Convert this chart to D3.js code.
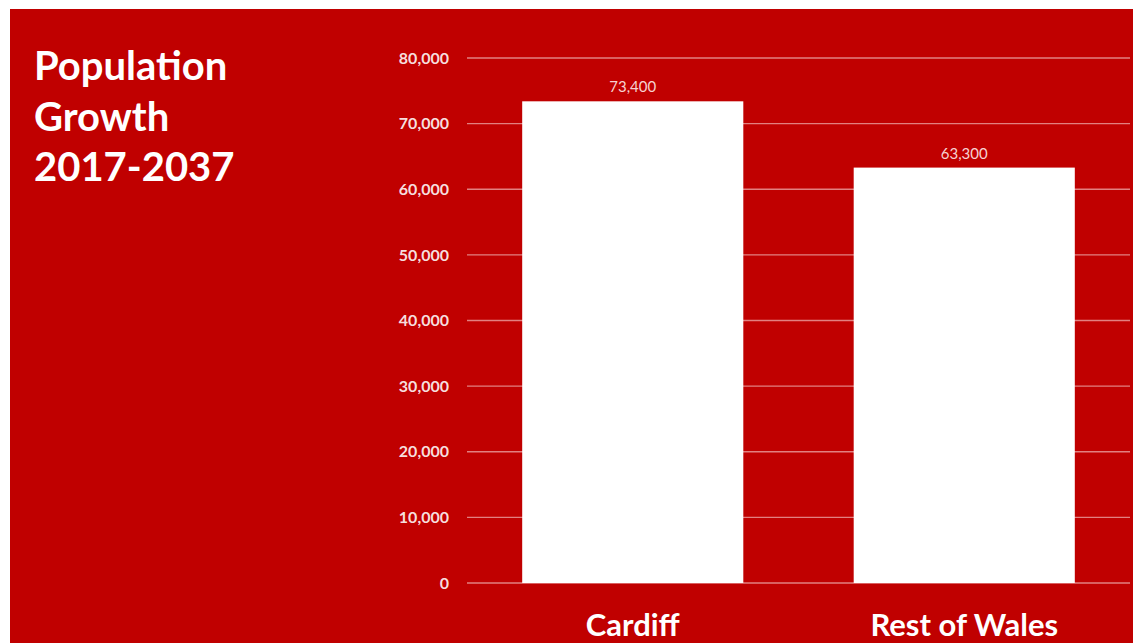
<!DOCTYPE html>
<html><head><meta charset="utf-8">
<script src="https://cdn.jsdelivr.net/npm/d3@7"></script>
<style>html,body{margin:0;padding:0;background:#fff;}svg{display:block;}</style>
</head><body>
<script>
const categories = ["Cardiff", "Rest of Wales"];
const values = [73400, 63300];
const tickValues = [0, 10000, 20000, 30000, 40000, 50000, 60000, 70000, 80000];
const titleLines = ["Population", "Growth", "2017-2037"];

const W = 1133, H = 643;
const svg = d3.select("body").append("svg").attr("width", W).attr("height", H);
svg.append("rect").attr("x", 10).attr("y", 9).attr("width", W - 10).attr("height", H - 9).attr("fill", "#C00000");

const font = "Lato, 'Open Sans', sans-serif";
const x = d3.scaleBand().domain(categories).range([467, 1130]).paddingInner(0.333).paddingOuter(0.1665);
const y = d3.scaleLinear().domain([0, 80000]).range([583, 58]);

// gridlines
svg.append("g").selectAll("line").data(tickValues).join("line")
  .attr("x1", 467).attr("x2", 1130)
  .attr("y1", d => y(d)).attr("y2", d => y(d))
  .attr("stroke", "#e28080").attr("stroke-width", 1.3);

// y axis labels
const yAxis = d3.axisLeft(y).tickValues(tickValues).tickFormat(d3.format(",")).tickSize(0).tickPadding(0);
const gy = svg.append("g").attr("transform", "translate(449,0)").call(yAxis);
gy.select(".domain").remove();
gy.selectAll("text").attr("fill", "#f6dede").attr("font-family", font).attr("font-weight", "bold").attr("font-size", 16);

// bars
svg.append("g").selectAll("rect").data(values).join("rect")
  .attr("x", (d, i) => x(categories[i])).attr("width", x.bandwidth())
  .attr("y", d => y(d)).attr("height", d => y(0) - y(d)).attr("fill", "#ffffff");

// value labels
svg.append("g").selectAll("text").data(values).join("text")
  .attr("x", (d, i) => x(categories[i]) + x.bandwidth() / 2)
  .attr("y", d => y(d) - 9)
  .attr("text-anchor", "middle").attr("fill", "#f6d2d2")
  .attr("font-family", font).attr("font-size", 15)
  .text(d => d3.format(",")(d));

// category labels
const xAxis = d3.axisBottom(x).tickSize(0).tickPadding(0);
const gx = svg.append("g").attr("transform", "translate(0,583)").call(xAxis);
gx.select(".domain").remove();
gx.selectAll("text").attr("dy", null).attr("y", 53).attr("fill", "#ffffff").attr("font-family", font).attr("font-weight", "bold").attr("font-size", 31);

// title
svg.append("g").selectAll("text").data(titleLines).join("text")
  .attr("x", 34).attr("y", (d, i) => 80 + i * 50.5)
  .attr("fill", "#ffffff").attr("font-family", font).attr("font-weight", "bold").attr("font-size", 40)
  .text(d => d);
</script>
</body></html>
